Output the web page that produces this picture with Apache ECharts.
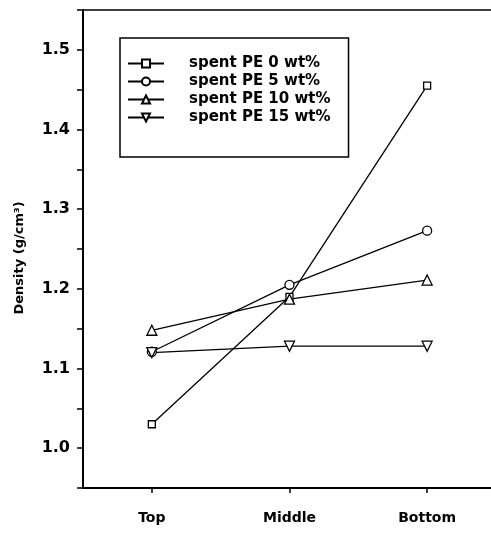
<!DOCTYPE html>
<html>
<head>
<meta charset="utf-8">
<script src="https://cdn.jsdelivr.net/npm/echarts@6/dist/echarts.min.js"></script>
<style>html,body{margin:0;padding:0;background:#fff;}#c{width:491px;height:536px;}</style>
</head>
<body>
<div id="c"></div>
<script>
const categories = ['Top', 'Middle', 'Bottom'];
const seriesNames = ['spent PE 0 wt%', 'spent PE 5 wt%', 'spent PE 10 wt%', 'spent PE 15 wt%'];
const pe0 = [1.03, 1.19, 1.455];
const pe5 = [1.121, 1.205, 1.273];
const pe10 = [1.148, 1.187, 1.211];
const pe15 = [1.12, 1.128, 1.128];
const yTicks = [1.0, 1.1, 1.2, 1.3, 1.4, 1.5];
const yTitle = 'Density (g/cm³)';

const font = '"DejaVu Sans", sans-serif';
const symbols = ['rect', 'circle', 'triangle', 'path://M0,0 L10,0 L5,9 Z'];
const sizes = [7, 9, 10, 10];
const datasets = [pe0, pe5, pe10, pe15];
const catIdx = categories.map((c, i) => i);
const xMin = -0.5, xMax = 2.464;

const chart = echarts.init(document.getElementById('c'), null, {renderer: 'canvas'});
chart.setOption({
  animation: false,
  backgroundColor: '#fff',
  grid: {left: 83, top: 10, bottom: 48, right: 0, show: false},
  legend: {
    orient: 'vertical', left: 120, top: 38,
    padding: [18, 18, 32, 7],
    itemGap: 3, itemWidth: 36, itemHeight: 10,
    backgroundColor: '#fff', borderColor: '#000', borderWidth: 1.5,
    textStyle: {fontFamily: font, fontWeight: 'bold', fontSize: 15, color: '#000', lineHeight: 14, padding: [0, 0, 0, 20]},
    data: seriesNames
  },
  graphic: [{
    type: 'text', x: 20, y: 258, rotation: Math.PI / 2,
    style: {text: yTitle, fill: '#000', font: 'bold 13px "DejaVu Sans", sans-serif', align: 'center', verticalAlign: 'middle'}
  }],
  xAxis: [{
    type: 'value', min: xMin, max: xMax, position: 'bottom',
    splitLine: {show: false},
    axisLine: {onZero: false, lineStyle: {color: '#000', width: 2}},
    axisTick: {customValues: catIdx, length: 5, lineStyle: {color: '#000', width: 1.5}},
    axisLabel: {customValues: catIdx, formatter: v => categories[Math.round(v)],
      color: '#000', fontFamily: font, fontWeight: 'bold', fontSize: 14, margin: 23}
  }, {
    type: 'value', min: xMin, max: xMax, position: 'top',
    splitLine: {show: false},
    axisLine: {show: true, onZero: false, lineStyle: {color: '#000', width: 1.5}},
    axisTick: {show: false}, axisLabel: {show: false}
  }],
  yAxis: {
    type: 'value', min: 0.95, max: 1.55, interval: 0.05, position: 'left',
    splitLine: {show: false},
    axisLine: {show: true, onZero: false, lineStyle: {color: '#000', width: 2}},
    axisTick: {show: true, length: 6, lineStyle: {color: '#000', width: 1.5}},
    axisLabel: {color: '#000', fontFamily: font, fontWeight: 'bold', fontSize: 16, margin: 13,
      formatter: function (v) {
        const t = yTicks.find(x => Math.abs(x - v) < 1e-6);
        return t !== undefined ? t.toFixed(1) : '';
      }}
  },
  series: datasets.map((d, i) => ({
    name: seriesNames[i], type: 'line', xAxisIndex: 0,
    data: d.map((v, j) => [catIdx[j], v]),
    symbol: symbols[i], symbolSize: sizes[i],
    showAllSymbol: true,
    lineStyle: {color: '#000', width: 1.3},
    itemStyle: {color: '#fff', borderColor: '#000', borderWidth: 1.3}
  }))
});
</script>
</body>
</html>
